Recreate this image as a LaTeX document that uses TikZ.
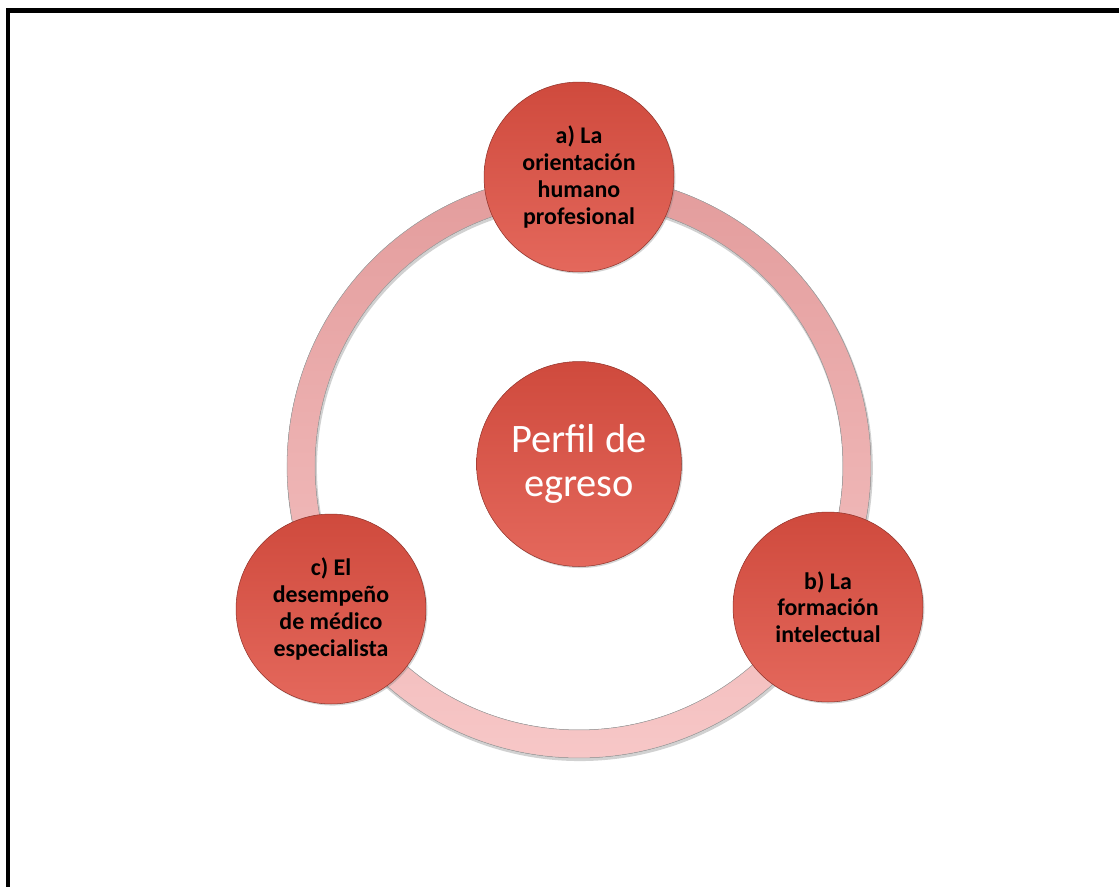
\documentclass[tikz,border=0pt]{standalone}
\usepackage{fontspec}
\setmainfont{Carlito}
\usepackage{tikz}
\usetikzlibrary{shadows}
\definecolor{nodetop}{HTML}{CF4A3D}
\definecolor{nodebot}{HTML}{E4685C}
\definecolor{ringtop}{HTML}{E39C9C}
\definecolor{ringbot}{HTML}{F7C7C7}

\begin{document}
\begin{tikzpicture}[x=0.02cm,y=-0.02cm,
      bubble/.style={circle,top color=nodetop,bottom color=nodebot,
        draw=nodetop!70!black,line width=0.3pt,
        drop shadow={opacity=0.35,shadow xshift=0.8pt,shadow yshift=-0.9pt},
        align=flush center,inner sep=0pt},
      stage/.style={bubble,minimum size=3.8cm,text width=2.8cm,
        font=\bfseries\fontsize{13.6}{15.2}\selectfont},
      core/.style={bubble,minimum size=4.1cm,text=white,
        font=\fontsize{23}{25.5}\selectfont}]
  \useasboundingbox (0,0) rectangle (1119,886);
  \draw[line width=0.1cm] (8,900) -- (8,10) -- (1130,10);
  \coordinate (hub) at (579,466);
  % ring behind the stages
  \fill[black,opacity=0.18,even odd rule]
      ([xshift=0.5pt,yshift=-1.2pt]hub) circle (5.86cm) ([xshift=0.5pt,yshift=-1.2pt]hub) circle (5.26cm);
  \fill[even odd rule,top color=ringtop,bottom color=ringbot,draw=black!35,line width=0.3pt]
      (hub) circle (5.84cm) (hub) circle (5.28cm);
  \node[core] (perfil) at (579,464) {Perfil de\\egreso};
  \node[stage] (orient) at (579,177) {a) La\\orientación\\humano\\profesional};
  \node[stage] (formac) at (828,607) {b) La\\formación\\intelectual};
  \node[stage] (desemp) at (331,609) {c) El\\desempeño\\de médico\\especialista};
  % \node[stage] (extra) at (579,740) {};
\end{tikzpicture}
\end{document}
